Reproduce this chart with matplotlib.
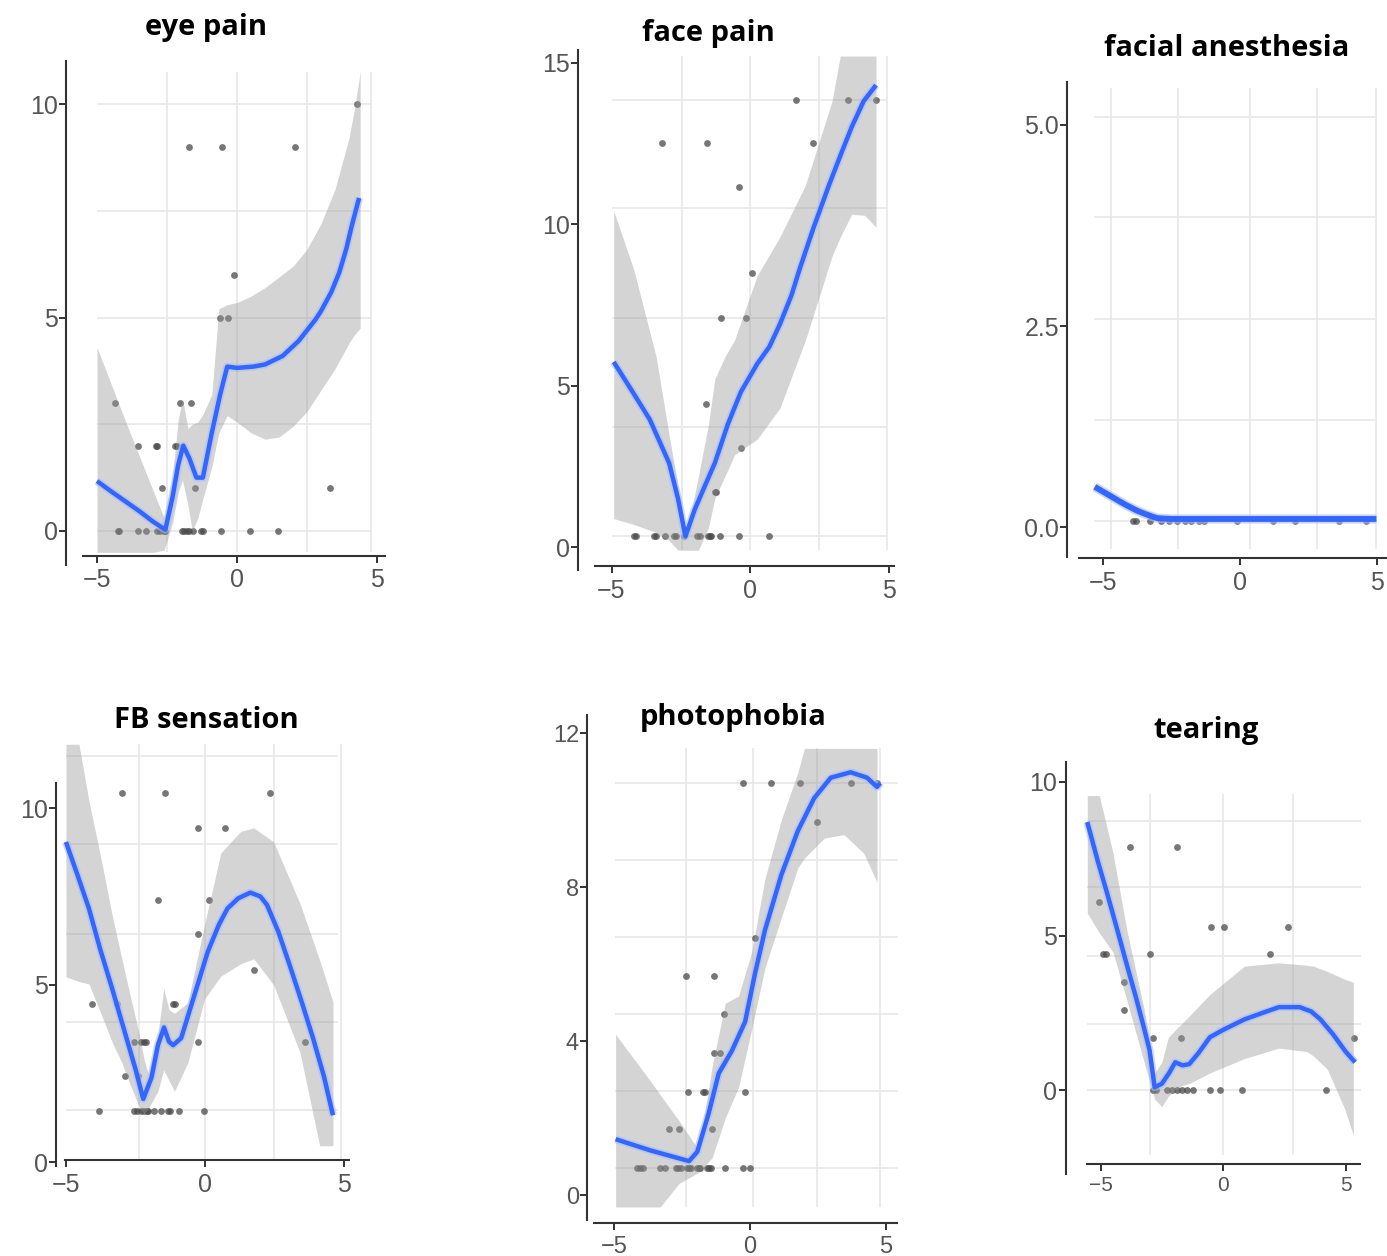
import matplotlib
matplotlib.use("Agg")
import matplotlib.pyplot as plt

W, H = 1387, 1256

# ---------------- eye pain ----------------
eye_curve_x = [-5, -4.5, -4, -3.5, -3, -2.56, -2.3, -2.1, -1.92, -1.7, -1.45, -1.22, -0.9, -0.6, -0.35,
               0, 0.58, 1.0, 1.63, 2.2, 2.8, 3.0, 3.37, 3.65, 3.9, 4.1, 4.36]
eye_curve_y = [1.17, 0.93, 0.7, 0.47, 0.22, 0.03, 0.8, 1.55, 2.0, 1.7, 1.25, 1.25, 2.3, 3.2, 3.85,
               3.82, 3.85, 3.9, 4.1, 4.45, 4.95, 5.15, 5.6, 6.05, 6.6, 7.15, 7.8]
eye_band_x = [-5, -4, -3, -2.6, -2.3, -2.1, -1.95, -1.75, -1.6, -1.4, -1.2, -0.9, -0.65, -0.35, 0,
              0.5, 1, 1.5, 2, 2.5, 3, 3.5, 4, 4.2, 4.4]
eye_hi = [4.3, 2.6, 0.95, 0.3, 1.3, 2.6, 3.1, 2.4, 2.5, 2.55, 2.75, 3.2, 5.2, 5.3, 5.35,
          5.5, 5.7, 5.95, 6.2, 6.6, 7.2, 8.0, 9.2, 9.9, 10.75]
eye_lo = [-0.5, -0.5, -0.5, -0.45, 0.2, 0.9, 1.2, 0.6, 0.0, 0.3, 0.8, 1.5, 2.3, 2.7, 2.55,
          2.3, 2.15, 2.2, 2.45, 2.8, 3.3, 3.8, 4.4, 4.6, 4.75]
eye_pts_x = [-4.24, -4.2, -3.55, -3.26, -2.85, -2.75, -2.6, -2.56, -1.98, -1.9, -1.8, -1.7, -1.57,
             -1.3, -1.22, -0.58, 0.47, 1.45, -2.67, -1.51, 3.31, -3.55, -2.9, -2.85, -2.2, -2.15,
             -4.36, -2.03, -1.65, -0.6, -0.33, -0.12, -1.71, -0.52, 2.07, 4.3]
eye_pts_y = [0, 0, 0, 0, 0, 0, 0, 0, 0, 0, 0, 0, 0, 0, 0, 0, 0, 0, 1, 1, 1, 2, 2, 2, 2, 2,
             3, 3, 3, 5, 5, 6, 9, 9, 9, 10]
eye_yticks = [0, 5, 10]

# ---------------- face pain ----------------
face_curve_x = [-4.92, -4.2, -3.62, -2.92, -2.6, -2.33, -2.0, -1.6, -1.27, -0.8, -0.33, 0.26, 0.7,
                1.08, 1.5, 1.79, 2.3, 2.85, 3.3, 3.67, 4.1, 4.55]
face_curve_y = [5.73, 4.75, 3.95, 2.6, 1.5, 0.33, 1.15, 1.95, 2.6, 3.8, 4.8, 5.67, 6.2,
                6.9, 7.8, 8.6, 9.9, 11.2, 12.2, 13.0, 13.8, 14.3]
face_band_x = [-4.92, -4.2, -3.39, -2.92, -2.6, -2.33, -2.1, -1.86, -1.5, -1.27, -0.9, -0.56, 0.26,
               1.08, 2.0, 2.96, 3.26, 3.67, 4.14, 4.55]
face_hi = [10.4, 8.6, 5.9, 3.46, 1.9, 0.6, 1.2, 2.2, 3.8, 5.2, 5.9, 6.4, 8.4,
           9.6, 11.2, 13.8, 15.2, 15.2, 15.2, 15.2]
face_lo = [0.88, 0.7, 0.45, 0.2, -0.1, -0.1, -0.1, -0.1, 0.6, 1.5, 2.2, 2.85, 3.34,
           4.3, 6.4, 9.0, 9.6, 10.3, 10.27, 9.9]
face_pts_x = [-4.2, -4.1, -3.45, -3.4, -3.06, -2.74, -2.68, -2.39, -1.92, -1.8, -1.5, -1.45, -1.41,
              -1.09, -0.39, 0.67, -1.27, -1.21, -0.33, -1.59, -1.06, -0.13, 0.08, -0.39,
              -3.18, -1.55, 2.29, 1.67, 3.55, 4.55]
face_pts_y = [0.33, 0.33, 0.33, 0.33, 0.33, 0.33, 0.33, 0.33, 0.33, 0.33, 0.33, 0.33, 0.33,
              0.33, 0.33, 0.33, 1.7, 1.7, 3.05, 4.42, 7.1, 7.1, 8.47, 11.15,
              12.5, 12.5, 12.5, 13.85, 13.85, 13.85]
face_yticks = [0, 5, 10, 15]

# ---------------- facial anesthesia ----------------
anes_curve_x = [-5.3, -5.0, -4.75, -4.4, -4.14, -3.8, -3.52, -3.2, -3.02, -2.5, -2.0, -1.0, 0.0,
                1.0, 2.0, 3.0, 4.0, 4.98]
anes_curve_y = [0.5, 0.44, 0.39, 0.32, 0.27, 0.21, 0.17, 0.13, 0.11, 0.1, 0.1, 0.1, 0.1,
                0.1, 0.1, 0.1, 0.1, 0.1]
anes_pts_x = [-3.9, -3.8, -2.0, -3.3, -2.9, -2.6, -2.3, -1.8, -1.5, -1.3, -0.1, 1.2, 2.0, 3.6, 4.6]
anes_pts_y = [0.08, 0.08, 0.08, 0.08, 0.08, 0.08, 0.08, 0.08, 0.08, 0.08, 0.08, 0.08, 0.08, 0.08, 0.08]
anes_yticks = [0.0, 2.5, 5.0]
anes_ylabels = ["0.0", "2.5", "5.0"]

# ---------------- FB sensation ----------------
fb_curve_x = [-5.02, -4.6, -4.19, -3.78, -3.36, -2.76, -2.5, -2.23, -1.93, -1.7, -1.48, -1.3, -1.15,
              -0.86, -0.38, 0.1, 0.5, 0.81, 1.2, 1.64, 2.0, 2.24, 2.65, 3.07, 3.5, 3.9, 4.3, 4.62]
fb_curve_y = [9.04, 8.1, 7.16, 6.0, 4.92, 3.3, 2.6, 1.78, 2.39, 3.3, 3.8, 3.4, 3.3,
              3.5, 4.72, 5.94, 6.7, 7.16, 7.45, 7.61, 7.5, 7.26, 6.5, 5.53, 4.5, 3.5, 2.4, 1.32]
fb_band_x = [-5.02, -4.55, -4.19, -3.71, -3.36, -3.0, -2.76, -2.4, -2.2, -2.05, -1.7, -1.49, -1.3,
             -1.1, -0.62, -0.02, 0.57, 1.29, 1.76, 2.48, 3.43, 4.14, 4.62]
fb_hi = [11.8, 11.8, 10.2, 8.4, 7.0, 5.74, 4.9, 3.7, 2.9, 2.5, 3.6, 4.9, 4.3,
         4.2, 4.5, 6.7, 8.73, 9.34, 9.44, 9.04, 7.3, 5.7, 4.52]
fb_lo = [5.23, 5.1, 5.03, 4.1, 3.4, 2.8, 2.3, 1.6, 1.35, 1.5, 2.0, 2.6, 2.3,
         2.0, 2.8, 4.6, 5.25, 5.6, 5.74, 5.0, 3.09, 0.46, 0.46]
fb_pts_x = [-3.83, -2.58, -2.45, -2.3, -2.2, -2.1, -2.05, -1.83, -1.6, -1.33, -1.27, -0.95, -0.05,
            -2.88, -2.43, -2.55, -2.31, -2.2, -2.14, -0.26, 3.61, -4.07, -3.18, -1.15, -1.08,
            1.76, -0.24, -1.69, 0.15, -0.26, 0.73, -3.0, -1.45, 2.33]
fb_pts_y = [1.45, 1.45, 1.45, 1.45, 1.45, 1.45, 1.45, 1.45, 1.45, 1.45, 1.45, 1.45, 1.45,
            2.44, 2.44, 3.4, 3.4, 3.4, 3.4, 3.4, 3.4, 4.47, 4.47, 4.47, 4.47,
            5.41, 6.43, 7.41, 7.41, 9.44, 9.44, 10.41, 10.41, 10.41]
fb_yticks = [0, 5, 10]

# ---------------- photophobia ----------------
photo_curve_x = [-4.94, -3.67, -2.24, -1.94, -1.52, -1.15, -0.67, -0.18, 0.18, 0.55, 1.15, 1.76,
                 2.36, 2.97, 3.7, 4.3, 4.67, 4.79]
photo_curve_y = [1.45, 1.16, 0.88, 1.12, 2.12, 3.16, 3.74, 4.5, 5.74, 6.88, 8.31, 9.46,
                 10.31, 10.84, 10.98, 10.84, 10.6, 10.7]
photo_band_x = [-4.94, -3.67, -3.3, -2.61, -1.88, -1.39, -0.91, -0.42, 0.06, 0.55, 1.15, 1.76, 2.0,
                2.73, 3.45, 4.18, 4.67]
photo_hi = [4.17, 2.97, 2.6, 1.93, 1.16, 3.35, 4.98, 5.17, 6.31, 8.22, 9.74, 10.98, 11.6,
            11.6, 11.6, 11.6, 11.6]
photo_lo = [-0.31, -0.31, -0.31, 0.3, 0.59, 0.97, 2.0, 2.8, 4.3, 5.9, 7.2, 8.5, 8.75,
            9.27, 9.36, 8.88, 8.12]
photo_pts_x = [-4.15, -4.05, -3.94, -3.3, -3.12, -2.73, -2.64, -2.55, -2.3, -2.24, -2.18, -1.94,
               -1.88, -1.82, -1.58, -1.5, -1.45, -0.91, -0.24, 0.0, -2.97, -2.61, -1.39,
               -2.27, -1.73, -1.64, -0.2, -1.33, -1.09, -0.95, -2.34, -1.33, 0.18, 2.46,
               -0.24, 0.79, 1.82, 3.7, 4.67]
photo_pts_y = [0.69, 0.69, 0.69, 0.69, 0.69, 0.69, 0.69, 0.69, 0.69, 0.69, 0.69, 0.69,
               0.69, 0.69, 0.69, 0.69, 0.69, 0.69, 0.69, 0.69, 1.71, 1.71, 1.71,
               2.68, 2.68, 2.68, 2.68, 3.7, 3.7, 4.7, 5.68, 5.68, 6.67, 9.7,
               10.7, 10.7, 10.7, 10.7, 10.7]
photo_yticks = [0, 4, 8, 12]

# ---------------- tearing ----------------
tear_curve_x = [-5.54, -5.1, -4.77, -4.35, -3.92, -3.55, -3.22, -3.0, -2.79, -2.5, -2.2, -1.95,
                -1.65, -1.38, -1.0, -0.54, 0, 0.87, 1.6, 2.28, 3.13, 3.6, 3.98, 4.5, 5.0, 5.39]
tear_curve_y = [8.7, 7.4, 6.5, 5.3, 4.05, 3.0, 2.0, 1.3, 0.09, 0.2, 0.55, 0.9,
                0.8, 0.84, 1.2, 1.71, 1.95, 2.29, 2.5, 2.69, 2.69, 2.55, 2.29, 1.8, 1.25, 0.9]
tear_band_x = [-5.54, -5.05, -4.49, -3.92, -3.22, -2.79, -2.5, -2.23, -1.95, -1.66, -1.38, -0.54,
               0.87, 2.28, 3.41, 3.7, 4.26, 4.96, 5.32]
tear_hi = [9.56, 9.56, 7.7, 5.17, 2.63, 0.55, 0.9, 1.71, 1.95, 2.17, 2.4, 3.1,
           4.02, 4.13, 4.05, 4.02, 3.85, 3.6, 3.5]
tear_lo = [5.75, 5.1, 4.48, 2.9, 0.9, -0.3, -0.54, -0.2, 0.0, 0.15, 0.21, 0.55,
           1.02, 1.36, 1.25, 1.1, 0.67, -0.6, -1.47]
tear_pts_x = [-2.86, -2.72, -2.3, -2.1, -1.88, -1.67, -1.45, -1.24, -0.54, -0.11, 0.76, 4.19,
              -2.86, -1.73, 5.36, -4.03, -4.03, -4.91, -4.77, -2.96, 1.9, -0.49, 0.03, 2.67,
              -5.05, -3.78, -1.88]
tear_pts_y = [0, 0, 0, 0, 0, 0, 0, 0, 0, 0, 0, 0,
              1.7, 1.7, 1.7, 2.6, 3.5, 4.4, 4.4, 4.4, 4.4, 5.3, 5.3, 5.3,
              6.1, 7.9, 7.9]
tear_yticks = [0, 5, 10]

x_ticks = [-5, 0, 5]
x_labels = ["\u22125", "0", "5"]

panels = [
    dict(title="eye pain", tx=206, ty=28, x0=237, xs=28.0, y0=531, ys=42.7,
         yaxis_x=-6.1, ybounds=(-0.8, 11.0), xaxis_y=-0.58, xbounds=(-5.5, 5.3), top=11.0,
         yticks=eye_yticks, ylabels=None, ysize=18, xsize=18,
         hgrid=[0, 2.5, 5, 7.5, 10], hspan=(-5, 4.8), vgrid=[-2.5, 0, 2.5, 4.8], vspan=(-0.5, 10.75),
         curve=(eye_curve_x, eye_curve_y), band=(eye_band_x, eye_lo, eye_hi), pts=(eye_pts_x, eye_pts_y)),
    dict(title="face pain", tx=708, ty=33, x0=750, xs=27.7, y0=547, ys=32.3,
         yaxis_x=-6.2, ybounds=(-0.7, 15.4), xaxis_y=-0.59, xbounds=(-5.6, 5.2), top=15.4,
         yticks=face_yticks, ylabels=None, ysize=18, xsize=18,
         hgrid=[0.33, 3.73, 7.1, 10.5, 13.85], hspan=(-4.98, 4.96), vgrid=[-2.45, 0, 2.5, 4.94],
         vspan=(-0.1, 15.2),
         curve=(face_curve_x, face_curve_y), band=(face_band_x, face_lo, face_hi), pts=(face_pts_x, face_pts_y)),
    dict(title="facial anesthesia", tx=1227, ty=48, x0=1240, xs=27.4, y0=527, ys=80.4,
         yaxis_x=-6.3, ybounds=(-0.37, 5.53), xaxis_y=-0.39, xbounds=(-5.89, 5.36), top=5.55,
         yticks=anes_yticks, ylabels=anes_ylabels, ysize=18, xsize=18,
         hgrid=[0.07, 1.33, 2.59, 3.85, 5.1], hspan=(-5.33, 4.98), vgrid=[-4.72, -2.25, 0.35, 2.81, 4.98],
         vspan=(-0.27, 5.46),
         curve=(anes_curve_x, anes_curve_y), band=None, pts=(anes_pts_x, anes_pts_y)),
    dict(title="FB sensation", tx=206, ty=720, x0=205, xs=27.7, y0=1162, ys=35.4,
         yaxis_x=-5.38, ybounds=(-0.1, 10.7), xaxis_y=0.05, xbounds=(-5.05, 5.2), top=11.9,
         yticks=fb_yticks, ylabels=None, ysize=18, xsize=18,
         hgrid=[1.47, 3.96, 6.45, 8.98, 11.47], hspan=(-5.02, 4.8), vgrid=[-2.4, 0, 2.48, 4.9],
         vspan=(0.05, 11.8),
         curve=(fb_curve_x, fb_curve_y), band=(fb_band_x, fb_lo, fb_hi), pts=(fb_pts_x, fb_pts_y)),
    dict(title="photophobia", tx=733, ty=717, x0=750, xs=27.2, y0=1195, ys=38.5,
         yaxis_x=-5.98, ybounds=(-0.65, 12.46), xaxis_y=-0.74, xbounds=(-5.73, 5.4), top=12.5,
         yticks=photo_yticks, ylabels=None, ysize=17, xsize=17,
         hgrid=[0.69, 2.7, 4.7, 6.7, 8.7, 10.7], hspan=(-4.97, 5.45), vgrid=[-2.36, 0.12, 2.48, 4.79],
         vspan=(-0.31, 11.6),
         curve=(photo_curve_x, photo_curve_y), band=(photo_band_x, photo_lo, photo_hi),
         pts=(photo_pts_x, photo_pts_y)),
    dict(title="tearing", tx=1206, ty=731, x0=1223, xs=24.5, y0=1090, ys=30.8,
         yaxis_x=-6.42, ybounds=(-2.74, 10.66), xaxis_y=-2.39, xbounds=(-5.54, 5.6), top=10.7,
         yticks=tear_yticks, ylabels=None, ysize=18, xsize=15,
         hgrid=[0, 2.14, 4.36, 6.6, 8.75], hspan=(-5.54, 6.16), vgrid=[-3.0, 0, 2.85, 5.8],
         vspan=(-2.1, 9.6),
         curve=(tear_curve_x, tear_curve_y), band=(tear_band_x, tear_lo, tear_hi), pts=(tear_pts_x, tear_pts_y)),
]

fig = plt.figure(figsize=(W / 100, H / 100), dpi=100)
fig.patch.set_facecolor("white")

for p in panels:
    x_lo = min(p["yaxis_x"], p["xbounds"][0]) - 0.05
    x_hi = p["xbounds"][1] + 0.05
    y_lo = min(p["xaxis_y"], p["ybounds"][0]) - 0.05
    y_hi = max(p["ybounds"][1], p["top"]) + 0.05
    left = p["x0"] + x_lo * p["xs"]
    right = p["x0"] + x_hi * p["xs"]
    top = p["y0"] - y_hi * p["ys"]
    bottom = p["y0"] - y_lo * p["ys"]
    ax = fig.add_axes([left / W, 1 - bottom / H, (right - left) / W, (bottom - top) / H])
    ax.set_xlim(x_lo, x_hi)
    ax.set_ylim(y_lo, y_hi)
    ax.patch.set_alpha(0)

    # panel grid
    ax.hlines(p["hgrid"], *p["hspan"], color="#e8e8e8", lw=1.2, zorder=0)
    ax.vlines(p["vgrid"], *p["vspan"], color="#e8e8e8", lw=1.2, zorder=0)

    ax.scatter(*p["pts"], s=24, color="#4a4a4a", alpha=0.75, lw=0, zorder=2)
    if p["band"] is not None:
        bx, blo, bhi = p["band"]
        ax.fill_between(bx, blo, bhi, color="#999999", alpha=0.42, lw=0, zorder=3)
    cx, cy = p["curve"]
    lw = 4.2 if p["band"] is None else 3.2
    ax.plot(cx, cy, color="#a8bdf5", lw=lw + 2.5, alpha=0.6, solid_capstyle="butt",
            solid_joinstyle="round", zorder=4)
    ax.plot(cx, cy, color="#3366ff", lw=lw, solid_capstyle="butt", solid_joinstyle="round", zorder=5)

    for s in ["top", "right"]:
        ax.spines[s].set_visible(False)
    ax.spines["left"].set_position(("data", p["yaxis_x"]))
    ax.spines["left"].set_bounds(*p["ybounds"])
    ax.spines["bottom"].set_position(("data", p["xaxis_y"]))
    ax.spines["bottom"].set_bounds(*p["xbounds"])
    for s in ["left", "bottom"]:
        ax.spines[s].set_color("#333333")
        ax.spines[s].set_linewidth(1.5)

    ax.set_yticks(p["yticks"])
    ax.set_xticks(x_ticks)
    if p["ylabels"] is not None:
        ax.set_yticklabels(p["ylabels"])
    ax.set_xticklabels(x_labels)
    ax.tick_params(direction="out", length=5, width=1.4, color="#333333", labelcolor="#555555")
    ax.tick_params(axis="y", pad=1, labelsize=p["ysize"])
    ax.tick_params(axis="x", pad=4, labelsize=p["xsize"])
    for lab in ax.get_xticklabels() + ax.get_yticklabels():
        lab.set_family(["Liberation Sans", "DejaVu Sans"])

    fig.text(p["tx"] / W, 1 - p["ty"] / H, p["title"], ha="center", va="center",
             fontsize=21, fontweight="bold", family=["Open Sans", "DejaVu Sans"], color="black")

fig.savefig("out.png", dpi=100)
